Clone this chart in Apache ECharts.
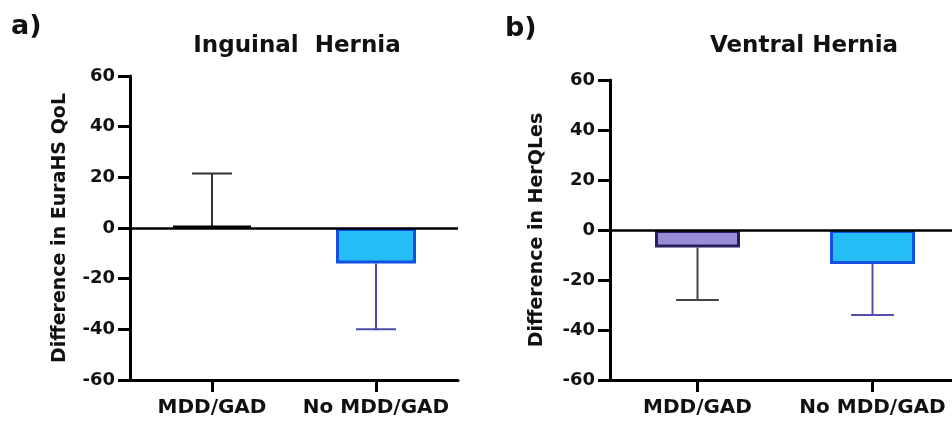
<!DOCTYPE html>
<html>
<head>
<meta charset="utf-8">
<script src="https://cdn.jsdelivr.net/npm/echarts@6/dist/echarts.min.js"></script>
<style>
  html, body { margin: 0; padding: 0; background: #fff; }
  #chart { width: 952px; height: 423px; }
</style>
</head>
<body>
<div id="chart"></div>
<script>
const categories = ['MDD/GAD', 'No MDD/GAD'];
// mean change and error bar end (one-sided, GraphPad style)
const inguinalMean = [0.8, -14];
const inguinalErrEnd = [21.5, -40];
const ventralMean = [-7, -13.6];
const ventralErrEnd = [-28, -34];
const yMin = -60, yMax = 60, yStep = 20;

const font = 'DejaVu Sans';
const barFill = [['#111111', '#25bdf5'], ['#9a8cd8', '#25bdf5']];
const barBorder = [['#000000', '#1150e0'], ['#2a1f5c', '#1150e0']];
const errColor = [['#333333', '#4b4ba8'], ['#444444', '#5050aa']];

const chart = echarts.init(document.getElementById('chart'));

const yAxisBase = (idx, name, gap) => ({
    type: 'value', gridIndex: idx, min: yMin, max: yMax, interval: yStep,
    name: name, nameLocation: 'middle', nameGap: gap, nameRotate: 90,
    nameTextStyle: {fontFamily: font, fontWeight: 'bold', fontSize: 19, color: '#111'},
    splitLine: {show: false},
    axisLine: {show: true, lineStyle: {color: '#000', width: 3}},
    axisTick: {show: true, length: 12, lineStyle: {color: '#000', width: 3}},
    axisLabel: {fontFamily: font, fontWeight: 'bold', fontSize: 18, color: '#111', margin: 15}
});

const xAxisBase = (idx) => ({
    type: 'category', gridIndex: idx, data: categories,
    axisLine: {onZero: false, lineStyle: {color: '#000', width: 3}},
    axisTick: {show: true, interval: 0, alignWithLabel: true, length: 12, lineStyle: {color: '#000', width: 3}},
    axisLabel: {interval: 0, hideOverlap: false, fontFamily: font, fontWeight: 'bold', fontSize: 20, color: '#111', margin: 18}
});

const barSeries = (idx, means, bw) => ({
    type: 'bar', xAxisIndex: idx, yAxisIndex: idx, barWidth: bw, z: 3,
    data: means.map((v, i) => ({
        value: v,
        itemStyle: {color: barFill[idx][i], borderColor: barBorder[idx][i], borderWidth: 3}
    })),
    markLine: {
        silent: true, symbol: 'none', label: {show: false},
        lineStyle: {color: '#000', width: 2.5, type: 'solid'},
        data: [{yAxis: 0}]
    }
});

const errSeries = (idx, means, ends) => ({
    type: 'custom', xAxisIndex: idx, yAxisIndex: idx, z: 2,
    data: means.map((m, i) => [i, m, ends[i]]),
    encode: {x: 0, y: [1, 2]},
    renderItem(params, api) {
        const i = api.value(0);
        const p0 = api.coord([i, api.value(1)]);
        const p1 = api.coord([i, api.value(2)]);
        const half = api.size([1, 0])[0] * 0.122;
        const style = {stroke: errColor[idx][i], lineWidth: 2};
        return {
            type: 'group',
            children: [
                {type: 'line', shape: {x1: p0[0], y1: p0[1], x2: p1[0], y2: p1[1]}, style},
                {type: 'line', shape: {x1: p1[0] - half, y1: p1[1], x2: p1[0] + half, y2: p1[1]}, style}
            ]
        };
    }
});

const titleStyle = {fontFamily: font, fontWeight: 'bold', fontSize: 23, color: '#111'};
const tagStyle = {fontFamily: font, fontWeight: 'bold', fontSize: 27, color: '#111'};

chart.setOption({
    backgroundColor: '#fff',
    animation: false,
    title: [
        {text: 'Inguinal  Hernia', left: 292, top: 30, textAlign: 'center', textStyle: titleStyle},
        {text: 'Ventral Hernia', left: 799, top: 30, textAlign: 'center', textStyle: titleStyle},
        {text: 'a)', left: 6, top: 8, textStyle: tagStyle},
        {text: 'b)', left: 500, top: 10, textStyle: tagStyle}
    ],
    grid: [
        {left: 130, top: 76, width: 328, height: 304, outerBoundsMode: 'none'},
        {left: 610, top: 80, width: 350, height: 300, outerBoundsMode: 'none'}
    ],
    xAxis: [xAxisBase(0), xAxisBase(1)],
    yAxis: [
        yAxisBase(0, 'Difference in EuraHS QoL', 60),
        yAxisBase(1, 'Difference in HerQLes', 63)
    ],
    series: [
        errSeries(0, inguinalMean, inguinalErrEnd),
        barSeries(0, inguinalMean, 80),
        errSeries(1, ventralMean, ventralErrEnd),
        barSeries(1, ventralMean, 85)
    ]
});
</script>
</body>
</html>
